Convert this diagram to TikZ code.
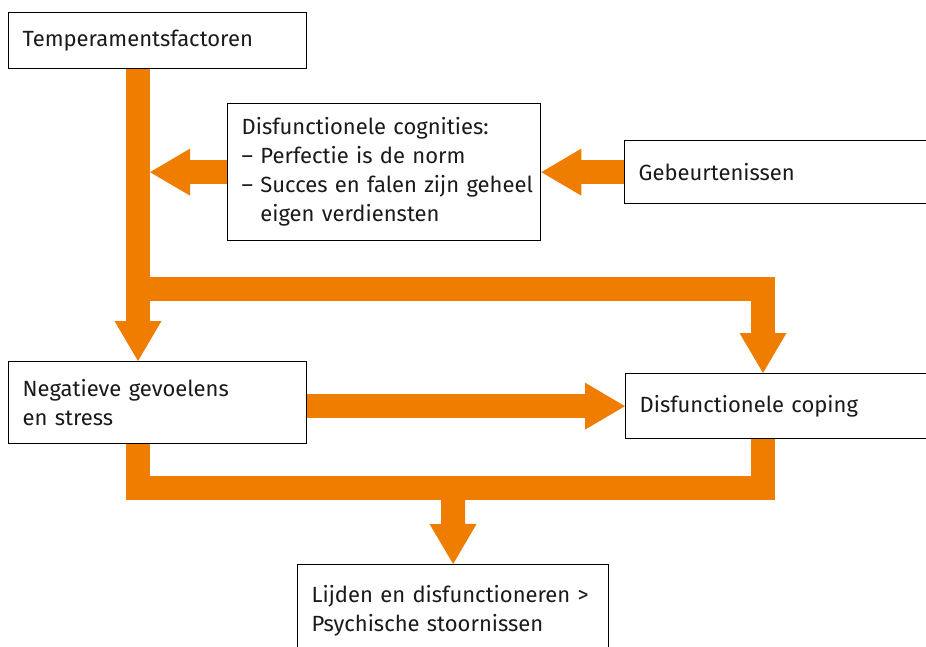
\documentclass[tikz,border=0pt]{standalone}
\usepackage{fontspec}
\setmainfont{Fira Sans}
\usepackage{xcolor}
\usepackage{tikz}
\usetikzlibrary{arrows.meta, positioning, calc}

\definecolor{floworange}{HTML}{EF7D00}
\definecolor{boxtext}{HTML}{1A1A1A}

\begin{document}
\begin{tikzpicture}[
    x=1pt, y=-1pt,
    box/.style={rectangle, draw=black, line width=1.3pt, fill=white, anchor=north west, align=left, inner xsep=14pt, inner ysep=0pt, text=boxtext, font=\fontsize{22}{29}\selectfont},
    flow/.style={draw=floworange, line width=24pt, -{Triangle[length=40pt, width=47pt, line width=0pt]}},
    bar/.style={draw=floworange, line width=24pt}
]

\useasboundingbox (0,0) rectangle (926,646);

% ===== BOXES =====
\node[box, text width=270pt, minimum height=56pt] (temp) at (8,12) {Temperamentsfactoren};
\node[box, text width=285pt, minimum height=137pt] (cog) at (227,103) {\mbox{Disfunctionele cognities:}\\
  \mbox{-- Perfectie is de norm}\\
  \mbox{-- Succes en falen zijn geheel}\\
  \mbox{\phantom{-- }eigen verdiensten}};
\node[box, text width=316pt, minimum height=63pt] (geb) at (624,140) {Gebeurtenissen};
\node[box, text width=270pt, minimum height=82pt] (neg) at (8,361) {Negatieve gevoelens\\en stress};
\node[box, text width=316pt, minimum height=65pt] (coping) at (625,373) {Disfunctionele coping};
\node[box, text width=283pt, minimum height=92pt] (lijden) at (297,564) {\mbox{Lijden en disfunctioneren >}\\Psychische stoornissen};

% ===== HELPER POINTS =====
\coordinate (split) at (138,289);
\coordinate (merge) at (453,488);

% ===== ARROWS =====
% Temperament trunk
\draw[flow] ([xshift=130pt]temp.south west) -- ([xshift=130pt]neg.north west);
\draw[flow] (split) -| ([xshift=138pt]coping.north west);

% Cognities and events
\draw[flow, shorten >=12pt] (cog.west) -- (cog.west -| split);
\draw[flow] (geb.west) -- (cog.east);

% Feelings to coping
\draw[flow] (neg.east |- coping.west) -- (coping.west);

% Both into suffering
\draw[bar] ([xshift=130pt]neg.south west) |- (merge) -| ([xshift=138pt]coping.south west);
\draw[flow] (merge) -- (lijden.north);

\end{tikzpicture}
\end{document}
